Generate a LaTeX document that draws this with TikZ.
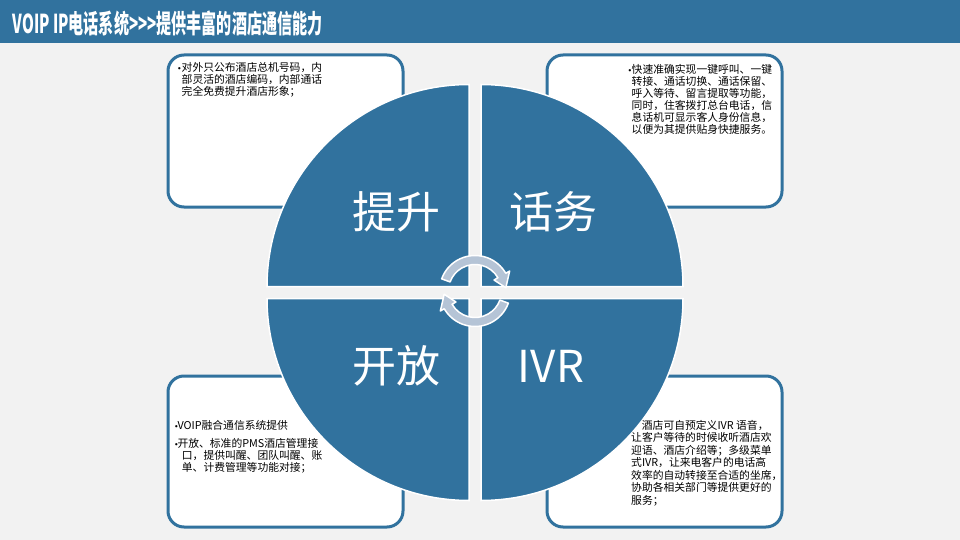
\documentclass[tikz,border=0pt]{standalone}
\usepackage{fontspec}
\usepackage{graphicx}
\usetikzlibrary{calc}
\newfontfamily\cjk{Noto Sans CJK SC}
\definecolor{vblue}{HTML}{31729E}
\definecolor{pagebg}{HTML}{F2F2F2}
\definecolor{arrowfill}{HTML}{B5C4D6}
\newcommand\mybul[1]{\makebox[#1][l]{\raisebox{1.2pt}{\normalfont\fontsize{8}{8}\selectfont\textbullet}}}
\newcommand\myind[1]{\hspace*{#1}}
\tikzset{
  infobox/.style={draw=vblue, line width=3pt, fill=white, rounded corners=16pt},
  quad/.style={fill=vblue, draw=white, line width=1.5pt},
  turnarrow/.style={fill=arrowfill, draw=white, line width=1.5pt, line join=round},
  desc/.style={font=\cjk\fontsize{10.8}{12}\selectfont, align=left, inner sep=0pt, text=black, anchor=north west},
  biglabel/.style={font=\cjk\fontsize{44}{44}\selectfont, text=white, inner sep=0pt},
  titletext/.style={font=\cjk\bfseries\fontsize{26}{26}\selectfont, text=white, inner sep=0pt, anchor=base west}
}
\begin{document}
\begin{tikzpicture}[x=1pt,y=-1pt]
\fill[pagebg] (0,0) rectangle (960,540);
\useasboundingbox (0,0) rectangle (960,540);
% title bar
\fill[vblue] (0,0) rectangle (960,43);
\node[titletext] (title) at (12.5,33.3) {\scalebox{0.58}[1]{VOIP IP电话系统>>>提供丰富的酒店通信能力}};
% boxes
\draw[infobox] (168,55) rectangle (403,207);
\draw[infobox] (547,55) rectangle (782,207);
\draw[infobox] (168,376) rectangle (403,527);
\draw[infobox] (547,376) rectangle (782,527);
% quadrants
\filldraw[quad] (469,286.5) -- ++(180:202) arc[start angle=180,end angle=270,radius=202] -- cycle;
\filldraw[quad] (481,286.5) -- ++(270:202) arc[start angle=270,end angle=360,radius=202] -- cycle;
\filldraw[quad] (481,298.5) -- ++(0:202) arc[start angle=0,end angle=90,radius=202] -- cycle;
\filldraw[quad] (469,298.5) -- ++(90:202) arc[start angle=90,end angle=180,radius=202] -- cycle;
% big labels
\node[biglabel] (lblts) at (396,212) {提升};
\node[biglabel] (lblhw) at (553,212) {话务};
\node[biglabel] (lblkf) at (396,366) {开放};
\node[biglabel] (lblivr) at (551,366) {IVR};
% rotating arrows
\coordinate (ac) at (475,291);
\filldraw[turnarrow] ($(ac)+(200:35.5)$) arc[start angle=200,end angle=330,radius=35.5]
  -- ($(ac)+(330:40)$) -- ($(ac)+(354:31)$) -- ($(ac)+(330:22)$) -- ($(ac)+(330:26.5)$)
  arc[start angle=330,end angle=200,radius=26.5] -- cycle;
\filldraw[turnarrow] ($(ac)+(20:35.5)$) arc[start angle=20,end angle=150,radius=35.5]
  -- ($(ac)+(150:40)$) -- ($(ac)+(174:31)$) -- ($(ac)+(150:22)$) -- ($(ac)+(150:26.5)$)
  arc[start angle=150,end angle=20,radius=26.5] -- cycle;
% texts
\node[desc] (txttl) at (176,62) {\mybul{5.5pt}对外只公布酒店总机号码，内\\
\myind{5.5pt}部灵活的酒店编码，内部通话\\
\myind{5.5pt}完全免费提升酒店形象；};
\node[desc] (txttr) at (626.5,64) {\mybul{5pt}快速准确实现一键呼叫、一键\\
\myind{5pt}转接、通话切换、通话保留、\\
\myind{5pt}呼入等待、留言提取等功能，\\
\myind{5pt}同时，住客拨打总台电话，信\\
\myind{5pt}息话机可显示客人身份信息，\\
\myind{5pt}以便为其提供贴身快捷服务。};
\node[desc] (txtbl) at (173,420) {\mybul{4.3pt}VOIP融合通信系统提供\\[6pt]
\mybul{4.3pt}开放、标准的PMS酒店管理接\\
\myind{8.7pt}口，提供叫醒、团队叫醒、账\\
\myind{8.7pt}单、计费管理等功能对接；};
\node[desc, font=\cjk\fontsize{10.8}{12.5}\selectfont] (txtbr) at (631,420) {\myind{10.7pt}酒店可自预定义IVR 语音，\\
让客户等待的时候收听酒店欢\\
迎语、酒店介绍等；多级菜单\\
式IVR，让来电客户的电话高\\
效率的自动转接至合适的坐席，\\
协助各相关部门等提供更好的\\
服务；};
\end{tikzpicture}
\end{document}
